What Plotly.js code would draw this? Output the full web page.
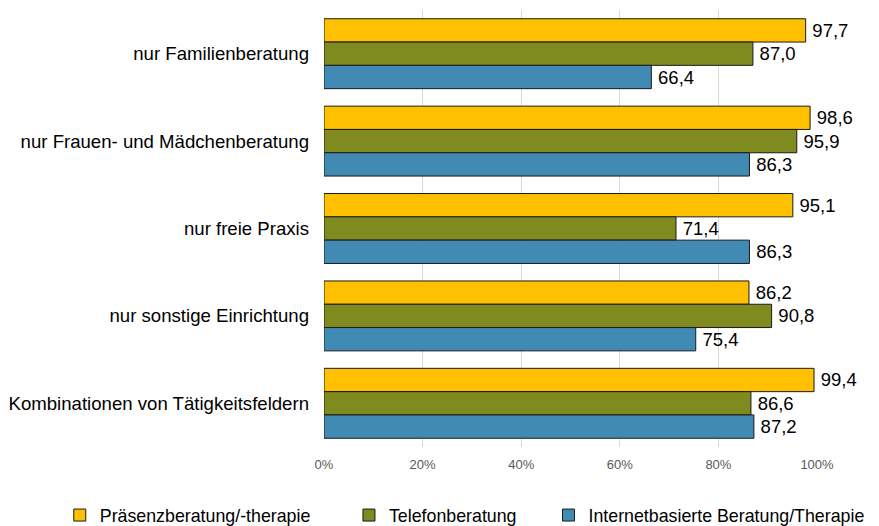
<!DOCTYPE html>
<html>
<head>
<meta charset="utf-8">
<script src="https://cdn.plot.ly/plotly-3.0.1.min.js"></script>
<style>
  html, body { margin: 0; padding: 0; background: #ffffff; }
  #chart { width: 879px; height: 526px; }
</style>
</head>
<body>
<div id="chart"></div>
<script>
const categories = [
  "nur Familienberatung",
  "nur Frauen- und Mädchenberatung",
  "nur freie Praxis",
  "nur sonstige Einrichtung",
  "Kombinationen von Tätigkeitsfeldern",
];
const seriesNames = [
  "Präsenzberatung/-therapie",
  "Telefonberatung",
  "Internetbasierte Beratung/Therapie",
];
const praesenz = [97.7, 98.6, 95.1, 86.2, 99.4];
const telefon = [87.0, 95.9, 71.4, 90.8, 86.6];
const internet = [66.4, 86.3, 86.3, 75.4, 87.2];
const xTicks = [0, 20, 40, 60, 80, 100];

const colors = ["#ffc000", "#7f8b1f", "#418ab3"];
const fontFamily = "Liberation Sans, Arial, sans-serif";
// one legend per series so each entry can sit where the original has it
const legendIds = ["legend", "legend2", "legend3"];
const legendX = [0.068, 0.397, 0.624];

const traces = [praesenz, telefon, internet].map((values, i) => ({
  type: "bar",
  orientation: "h",
  name: seriesNames[i],
  legend: legendIds[i],
  x: values,
  y: categories,
  // thin space keeps the label a bit off the bar end, like the original
  text: values.map((v) => "\u2009" + v.toFixed(1).replace(".", ",")),
  textposition: "outside",
  cliponaxis: false,
  textfont: { family: fontFamily, size: 18.5, color: "#000000" },
  marker: { color: colors[i], line: { color: "#1a1a1a", width: 1 } },
  hoverinfo: "skip",
}));

function makeLegend(x) {
  return {
    orientation: "h",
    xref: "container",
    yref: "container",
    x: x,
    xanchor: "left",
    y: 0.02,
    yanchor: "middle",
    bgcolor: "rgba(0,0,0,0)",
    font: { family: fontFamily, size: 17.8, color: "#000000" },
    itemwidth: 30,
  };
}

const layout = {
  width: 879,
  height: 526,
  margin: { l: 324, r: 62, t: 10, b: 79, autoexpand: false },
  paper_bgcolor: "#ffffff",
  plot_bgcolor: "#ffffff",
  barmode: "group",
  bargap: 0.2,
  bargroupgap: 0,
  font: { family: fontFamily, size: 18, color: "#000000" },
  showlegend: true,
  xaxis: {
    range: [0, 100],
    tickvals: xTicks,
    ticktext: xTicks.map((t) => t + "%"),
    showgrid: true,
    gridcolor: "#d9d9d9",
    gridwidth: 1,
    zeroline: false,
    showline: false,
    ticks: "",
    ticklabelstandoff: 8,
    tickfont: { family: fontFamily, size: 13, color: "#595959" },
    fixedrange: true,
  },
  yaxis: {
    autorange: "reversed",
    showgrid: false,
    zeroline: false,
    showline: false,
    ticks: "",
    ticklabelstandoff: 14,
    tickfont: { family: fontFamily, size: 18.6, color: "#000000" },
    fixedrange: true,
  },
};
legendIds.forEach((id, i) => {
  layout[id] = makeLegend(legendX[i]);
});

Plotly.newPlot("chart", traces, layout, { displayModeBar: false, staticPlot: true });
</script>
</body>
</html>
